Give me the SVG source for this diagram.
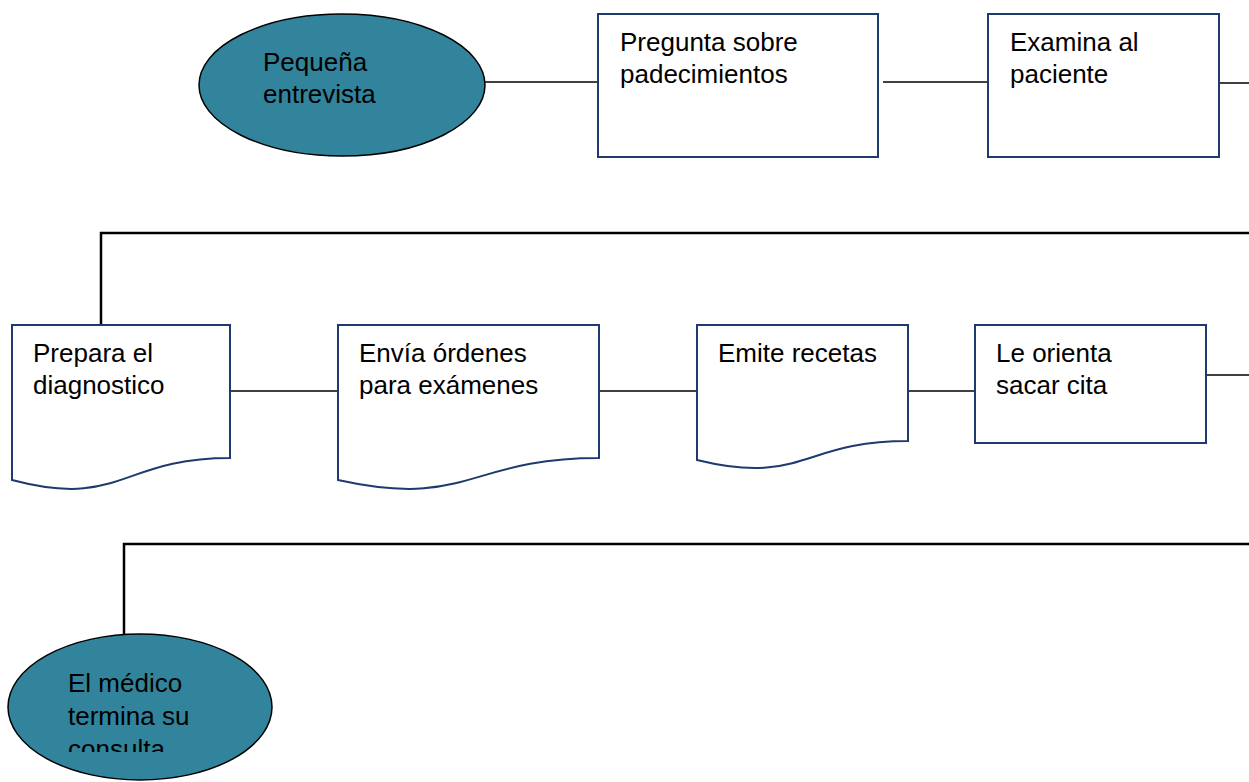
<svg xmlns="http://www.w3.org/2000/svg" width="1249" height="782" viewBox="0 0 1249 782">
<style>
.term{fill:#31849B;stroke:#000;stroke-width:1.5}
.box{fill:#fff;stroke:#1F3A6E;stroke-width:2}
.lbl{font-family:"Liberation Sans",Arial,sans-serif;font-size:26px;fill:#000}
.c{stroke:#000;stroke-width:1.5;fill:none}
.cl{stroke:#000;stroke-width:2.5;fill:none}
</style>
<defs>
<clipPath id="clipEnd"><rect x="0" y="640" width="300" height="112"/></clipPath>
</defs>
<rect width="1249" height="782" fill="#fff"/>
<g id="connectors">
<line class="c" x1="485" y1="82" x2="598" y2="82"/>
<line class="c" x1="883" y1="82" x2="988" y2="82"/>
<line class="c" x1="1219" y1="83" x2="1249" y2="83"/>
<polyline class="cl" points="1249,233 101,233 101,325"/>
<line class="c" x1="230" y1="391" x2="338" y2="391"/>
<line class="c" x1="599" y1="391" x2="697" y2="391"/>
<line class="c" x1="908" y1="391" x2="975" y2="391"/>
<line class="c" x1="1206" y1="375" x2="1249" y2="375"/>
<polyline class="cl" points="1249,544 124,544 124,635"/>
</g>
<g id="n1">
<ellipse class="term" cx="342" cy="85" rx="143" ry="71"/>
<text class="lbl" x="263" y="71">Pequeña</text>
<text class="lbl" x="263" y="103">entrevista</text>
</g>
<g id="n2">
<rect class="box" x="598" y="14" width="280" height="143"/>
<text class="lbl" x="620" y="51">Pregunta sobre</text>
<text class="lbl" x="620" y="83">padecimientos</text>
</g>
<g id="n3">
<rect class="box" x="988" y="14" width="231" height="143"/>
<text class="lbl" x="1010" y="51">Examina al</text>
<text class="lbl" x="1010" y="83">paciente</text>
</g>
<g id="n4">
<path class="box" d="M12,325 H230 V458 C121,458 121,509 12,480 Z"/>
<text class="lbl" x="33" y="362">Prepara el</text>
<text class="lbl" x="33" y="394">diagnostico</text>
</g>
<g id="n5">
<path class="box" d="M338,325 H599 V458 C468.5,458 468.5,509 338,480 Z"/>
<text class="lbl" x="359" y="362">Envía órdenes</text>
<text class="lbl" x="359" y="394">para exámenes</text>
</g>
<g id="n6">
<path class="box" d="M697,325 H908 V441 C802.5,441 802.5,486 697,460 Z"/>
<text class="lbl" x="718" y="362">Emite recetas</text>
</g>
<g id="n7">
<rect class="box" x="975" y="325" width="231" height="118"/>
<text class="lbl" x="996" y="362">Le orienta</text>
<text class="lbl" x="996" y="394">sacar cita</text>
</g>
<g id="n8">
<ellipse class="term" cx="140" cy="707" rx="132" ry="73"/>
<g clip-path="url(#clipEnd)">
<text class="lbl" x="68" y="692">El médico</text>
<text class="lbl" x="68" y="725">termina su</text>
<text class="lbl" x="68" y="758">consulta</text>
</g>
</g>
</svg>
